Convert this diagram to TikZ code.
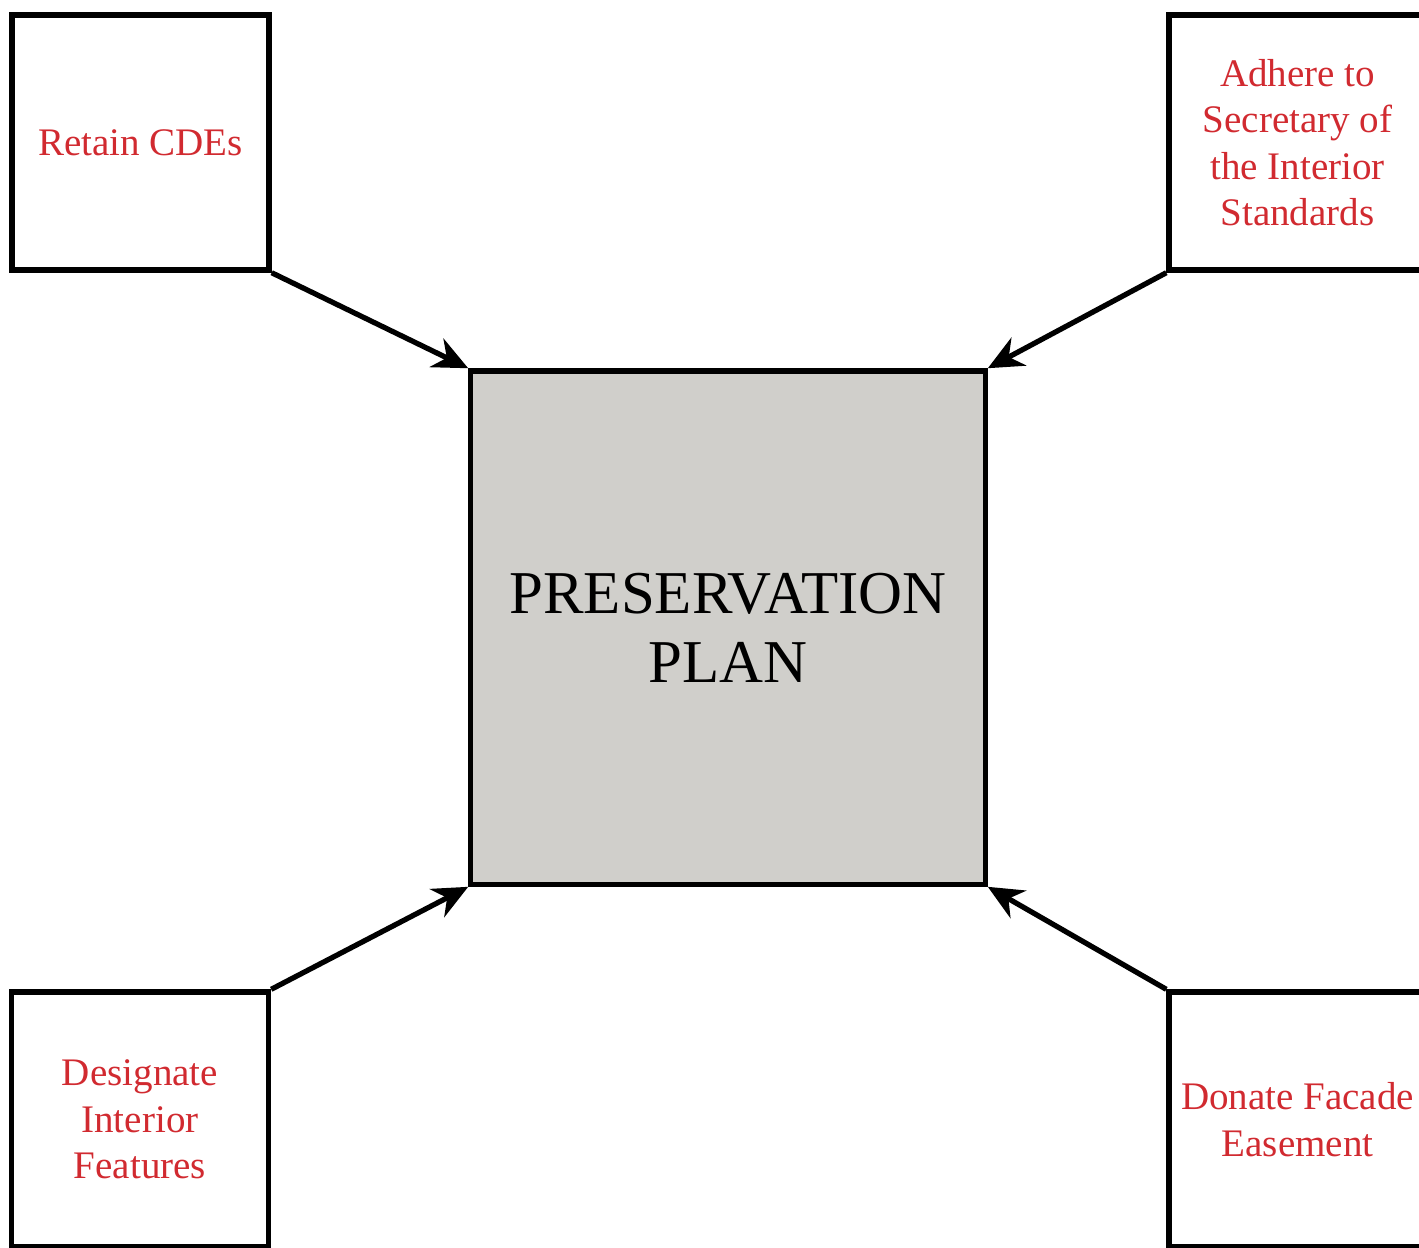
\documentclass[tikz,border=0pt]{standalone}
\usepackage{fontspec}
\setmainfont{Liberation Serif}
\usetikzlibrary{arrows.meta}
\definecolor{planred}{HTML}{D12A30}
\definecolor{plangray}{HTML}{D0CFCB}
\begin{document}
\begin{tikzpicture}[x=0.01cm,y=-0.01cm,
	goal/.style={draw=black,line width=1.5pt,minimum width=2.57cm,minimum height=2.55cm,inner sep=1pt,
		align=center,text=planred,font=\fontsize{11.1}{13.2}\selectfont},
	plan/.style={draw=black,line width=1.5pt,fill=plangray,minimum width=5.14cm,minimum height=5.13cm,
		align=center,font=\fontsize{17.3}{19.6}\selectfont},
	feed/.style={line width=1.5pt,-{Stealth[length=10pt,width=9pt]}}]
	\useasboundingbox (0,0) rectangle (1419,1247);
	\node [plan] (plan) at (728,627.5) {PRESERVATION\\PLAN};
	\node [goal] (cde) at (140.5,142.5) {Retain CDEs};
	\node [goal] (soi) at (1297.5,142.5) {Adhere to\\Secretary of\\the Interior\\Standards};
	\node [goal] (interior) at (140,1119.5) {Designate\\Interior\\Features};
	\node [goal] (facade) at (1297.5,1119.5) {Donate Facade\\Easement};
	\draw [feed] (cde.south east) -- (plan.north west);
	\draw [feed] (soi.south west) -- (plan.north east);
	\draw [feed] (interior.north east) -- (plan.south west);
	\draw [feed] (facade.north west) -- (plan.south east);
\end{tikzpicture}
\end{document}
